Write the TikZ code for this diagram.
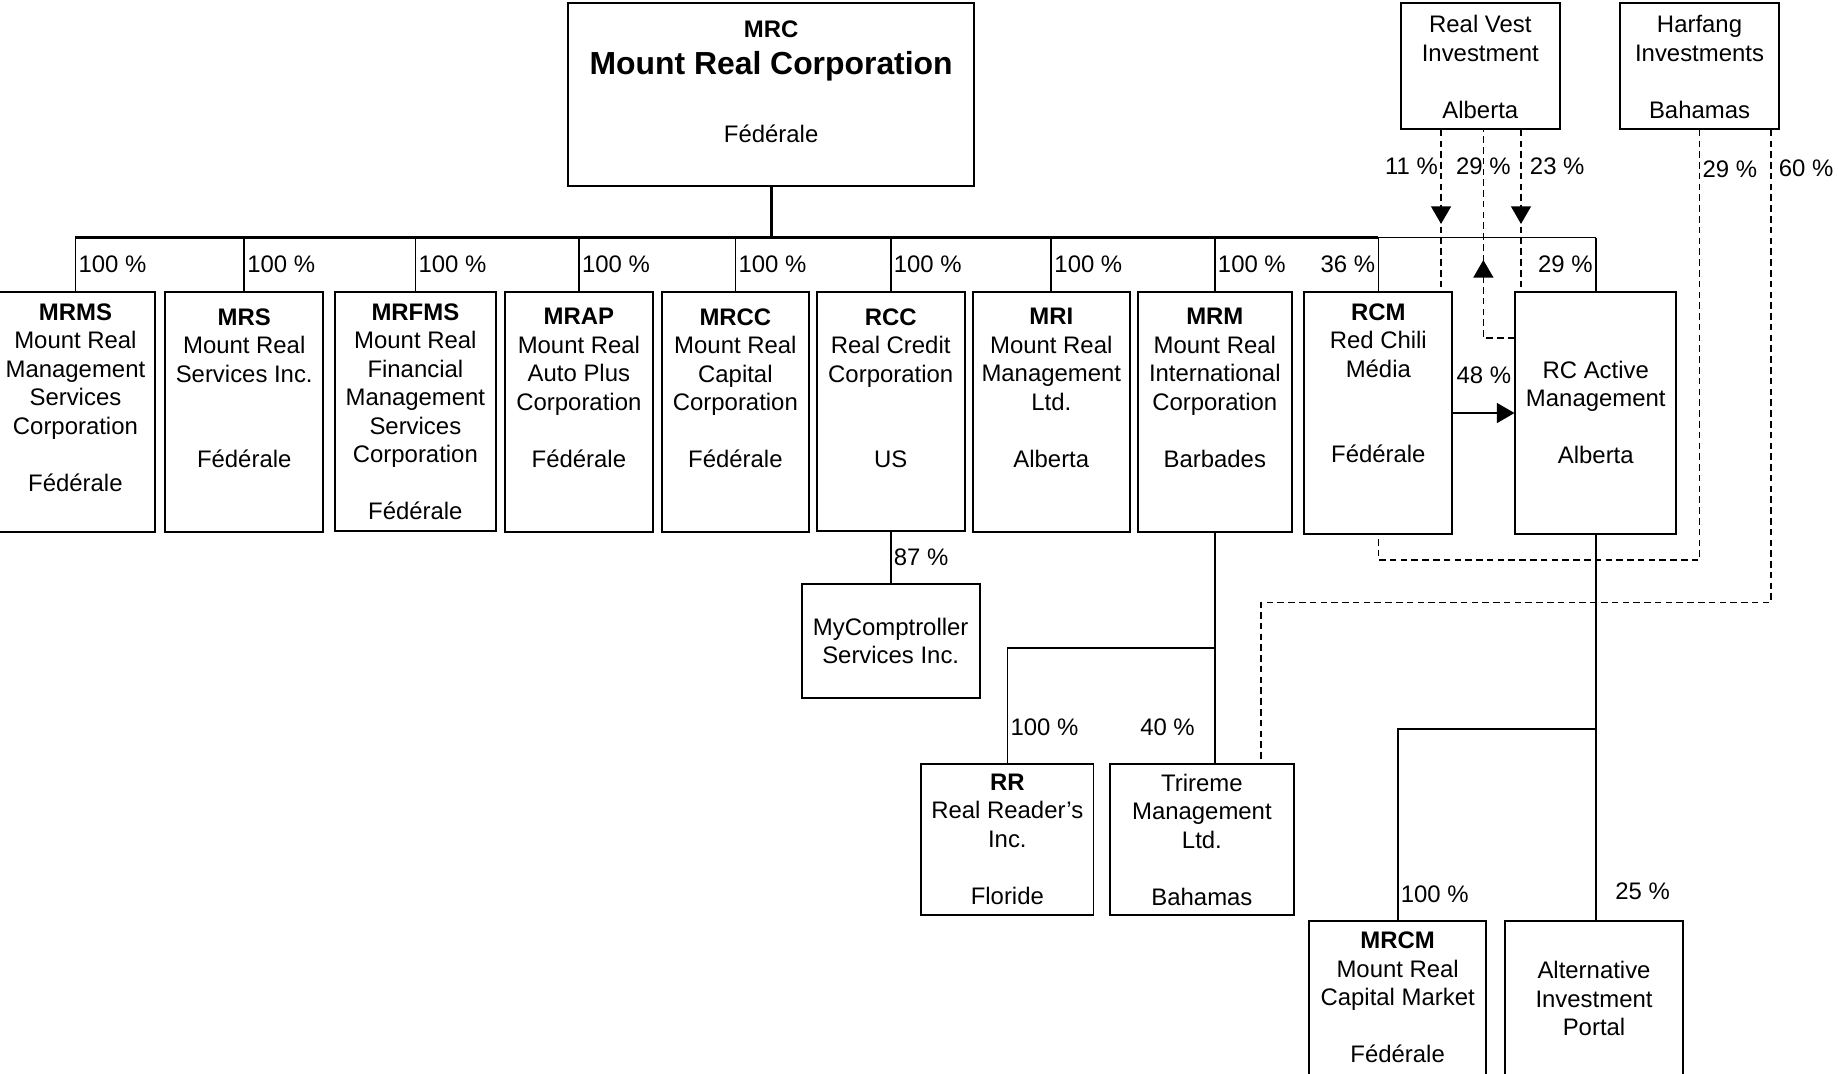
\documentclass[tikz,border=0pt]{standalone}
\usepackage{fontspec}
\setmainfont{Liberation Sans}
\usetikzlibrary{positioning,arrows.meta,decorations.markings}

\tikzset{
  firm/.style 2 args={draw, line width=0.85pt, inner sep=0pt, anchor=north west,
    minimum width=#1, minimum height=#2},
  firmtext/.style={align=center, inner sep=0pt, font=\fontsize{10.2}{12.15}\selectfont},
  pct/.style={inner sep=1pt, font=\fontsize{10.2}{12.15}\selectfont},
  own/.style={line width=0.7pt},
  ownd/.style={line width=0.65pt, dash pattern=on 2.8pt off 1.8pt},
  bus/.style={line width=1.3pt},
  tip/.style={-{Triangle[length=7.5pt,width=8.5pt]}},
  midarrow/.style={postaction={decorate, decoration={markings,
      mark=at position #1 with {\arrow{Triangle[length=7.5pt,width=8.5pt]}}}}},
}

\begin{document}
\begin{tikzpicture}[x=0.5pt, y=-0.5pt]
\useasboundingbox (0,0) rectangle (1568,915.4);

\node[firm={173pt}{78pt}] (mrc) at (484,2) {};
\node[firm={68pt}{53.5pt}] (rvest) at (1194,2) {};
\node[firm={68pt}{53.5pt}] (harfang) at (1381,2) {};

\node[firm={67.5pt}{102.5pt}] (mrms) at (-4,248) {};
\node[firm={67.5pt}{102.5pt}] (mrs) at (140,248) {};
\node[firm={68.5pt}{102pt}] (mrfms) at (285,248) {};
\node[firm={63pt}{102.5pt}] (mrap) at (430,248) {};
\node[firm={62.5pt}{102.5pt}] (mrcc) at (564,248) {};
\node[firm={63pt}{102pt}] (rcc) at (696,248) {};
\node[firm={67pt}{102.5pt}] (mri) at (829,248) {};
\node[firm={65.5pt}{102.5pt}] (mrm) at (970,248) {};
\node[firm={63pt}{103.5pt}] (rcm) at (1112,248) {};
\node[firm={68.5pt}{103.5pt}] (rcact) at (1292,248) {};

\node[firm={76pt}{49pt}] (mycomp) at (683,497) {};
\node[firm={73.5pt}{64.5pt}] (rr) at (785,651) {};
\node[firm={78.5pt}{64.5pt}] (trireme) at (946,651) {};
\node[firm={75.5pt}{80pt}] (mrcm) at (1116,785) {};
\node[firm={76pt}{80pt}] (altinv) at (1283,785) {};

\node[firmtext, below=7.85pt of mrc.north] (mrc-t) {\textbf{MRC}\\[3.55pt]{\fontsize{13.6}{15.7}\selectfont\bfseries Mount Real Corporation}\\[16.95pt]Fédérale};
\node[firmtext, below=5.35pt of rvest.north] (rvest-t) {Real Vest\\Investment\\[12.15pt]Alberta};
\node[firmtext, below=5.35pt of harfang.north] (harfang-t) {Harfang\\Investments\\[12.15pt]Bahamas};

\node[firmtext, below=5.35pt of mrms.north] (mrms-t) {\textbf{MRMS}\\Mount Real\\Management\\Services\\Corporation\\[12.15pt]Fédérale};
\node[firmtext, below=7.35pt of mrs.north] (mrs-t) {\textbf{MRS}\\Mount Real\\Services Inc.\\[24.3pt]Fédérale};
\node[firmtext, below=5.35pt of mrfms.north] (mrfms-t) {\textbf{MRFMS}\\Mount Real\\Financial\\Management\\Services\\Corporation\\[12.15pt]Fédérale};
\node[firmtext, below=7.35pt of mrap.north] (mrap-t) {\textbf{MRAP}\\Mount Real\\Auto Plus\\Corporation\\[12.15pt]Fédérale};
\node[firmtext, below=7.35pt of mrcc.north] (mrcc-t) {\textbf{MRCC}\\Mount Real\\Capital\\Corporation\\[12.15pt]Fédérale};
\node[firmtext, below=7.35pt of rcc.north] (rcc-t) {\textbf{RCC}\\Real Credit\\Corporation\\[24.3pt]US};
\node[firmtext, below=7.35pt of mri.north] (mri-t) {\textbf{MRI}\\Mount Real\\Management\\Ltd.\\[12.15pt]Alberta};
\node[firmtext, below=7.35pt of mrm.north] (mrm-t) {\textbf{MRM}\\Mount Real\\International\\Corporation\\[12.15pt]Barbades};
\node[firmtext, below=5.35pt of rcm.north] (rcm-t) {\textbf{RCM}\\Red Chili\\Média\\[24.3pt]Fédérale};
\node[firmtext, below=29.85pt of rcact.north] (rcact-t) {RC Active\\Management\\[12.15pt]Alberta};

\node[firmtext] (mycomp-t) at (mycomp.center) {MyComptroller\\Services Inc.};
\node[firmtext, below=4.35pt of rr.north] (rr-t) {\textbf{RR}\\Real Reader’s\\Inc.\\[12.15pt]Floride};
\node[firmtext, below=4.35pt of trireme.north] (trireme-t) {Trireme\\Management\\Ltd.\\[12.15pt]Bahamas};
\node[firmtext, below=4.85pt of mrcm.north] (mrcm-t) {\textbf{MRCM}\\Mount Real\\Capital Market\\[12.15pt]Fédérale};
\node[firmtext, below=17.35pt of altinv.north] (altinv-t) {Alternative\\Investment\\Portal};

\coordinate (bus) at (657,202.7);
\draw[bus] (mrc) -- (mrc.south |- bus);
\draw[bus] (mrms.north |- bus) -- (rcm.north |- bus);
\draw[own] (rcm.north |- bus) -- (rcact.north |- bus);
\foreach \f in {mrms,mrs,mrfms,mrap,mrcc,rcc,mri,mrm}
  \draw[own] (\f.north |- bus) -- node[pct, right] {100~\%} (\f.north);
\draw[own] (rcm.north |- bus) -- node[pct, left] {36~\%} (rcm.north);
\draw[own] (rcact.north |- bus) -- node[pct, left] {29~\%} (rcact.north);

\draw[own] (rcc) -- node[pct, right] {87~\%} (mycomp);
\draw[own] (mrm.south) -- (mrm.south |- trireme.north) node[pct, left=7.2pt, pos=0.843] {40~\%};
\coordinate (mrm-split) at ([yshift=-49pt]mrm.south);
\draw[own] (mrm-split) -| (rr.north) node[pct, right, pos=0.845] {100~\%};

\draw[own, tip] (rcm) -- node[pct, above=11.2pt] {48~\%} (rcact);
\draw[own] (rcact.south) -- (rcact.south |- altinv.north) node[pct, right=7pt, pos=0.924] {25~\%};
\coordinate (rca-split) at ([yshift=-82.5pt]rcact.south);
\draw[own] (rca-split) -| (mrcm.north) node[pct, right, pos=0.933] {100~\%};

\coordinate (rv-a) at ([xshift=-16.75pt]rvest.south);
\coordinate (rv-b) at ([xshift=1.3pt]rvest.south);
\coordinate (rv-c) at ([xshift=17.35pt]rvest.south);
\coordinate (hf-b) at ([xshift=30.5pt]harfang.south);
\coordinate (tri-a) at ([xshift=25.25pt]trireme.north);

\draw[ownd, midarrow=0.585] (rv-a) -- (rv-a |- rcm.north) node[pct, left, pos=0.227] {11~\%};
\draw[ownd, midarrow=0.585] (rv-c) -- (rv-c |- rcact.north) node[pct, right=2.5pt, pos=0.227] {23~\%};
\draw[ownd, midarrow=0.456] ([yshift=-20.2pt]rcact.north west) -| (rv-b) node[pct, pos=0.912] {29~\%};
\draw[ownd] (harfang.south) |- node[pct, right, pos=0.046] {29~\%} ([yshift=-10.5pt]rcm.south) -- (rcm.south);
\draw[ownd] (hf-b) |- node[pct, right=2pt, pos=0.041] {60~\%} ([yshift=68.5pt]tri-a) -- (tri-a);
\end{tikzpicture}
\end{document}
